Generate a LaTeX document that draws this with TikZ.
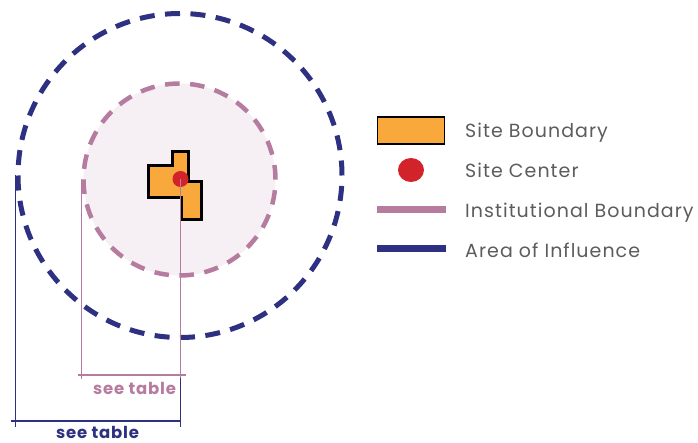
\documentclass[tikz,border=0pt]{standalone}
\usepackage{fontspec}
\setmainfont{Poppins}
\newfontfamily\legendfont{Poppins}[LetterSpace=5.5]
\newfontfamily\dimfont{Poppins}[LetterSpace=5]
\usetikzlibrary{shapes.geometric}
\definecolor{navy}{HTML}{2E3182}
\definecolor{mauve}{HTML}{B67C9F}
\definecolor{mauvefill}{HTML}{F6EFF4}
\definecolor{siteorange}{HTML}{F9A83B}
\definecolor{sitered}{HTML}{D2232A}
\definecolor{legendgray}{HTML}{5C5C5C}
\tikzset{
  aoiring/.style={circle, draw=navy, line width=5pt, inner sep=0pt,
    dash pattern=on 15pt off 10.45pt},
  instring/.style={circle, draw=mauve, fill=mauvefill, line width=4.5pt, inner sep=0pt,
    dash pattern=on 14.5pt off 10.63pt},
  dimnavy/.style={draw=navy, line width=1.2pt},
  dimmauve/.style={draw=mauve, line width=1.2pt},
  dimlabel/.style={font=\dimfont\fontsize{16.5}{18}\selectfont\bfseries, inner sep=0pt,
    anchor=base},
  legendtext/.style={anchor=base west, text=legendgray, inner sep=0pt,
    font=\legendfont\fontsize{19}{21}\selectfont},
  legendbar/.style={line width=7.5pt}
}
\begin{document}
\begin{tikzpicture}[x=1pt,y=-1pt]
\useasboundingbox (0,0) rectangle (698,443);

% influence area and institutional boundary
\node (aoi) [aoiring, minimum size=324pt] at (180,175.5) {};
\node (ib) [instring, minimum size=192pt] at (179.5,179.5) {};

% site boundary parcel
\draw[fill=siteorange, line width=3pt, line join=miter]
  (148,166) -- (172,166) -- (172,152) -- (188,152) -- (188,182) -- (201,182)
  -- (201,220) -- (181,220) -- (181,198) -- (148,198) -- cycle;

% site center
\node (sc) [circle, fill=sitered, inner sep=0pt, minimum size=16pt] at (180.5,179) {};

% dimension lines
\coordinate (mauveL) at (ib.west |- 0,379);
\coordinate (mauveR) at (180.5,378);
\coordinate (navyL) at (aoi.west |- 0,427);
\coordinate (navyR) at (180.5,427);
\coordinate (mh1) at (78,375);
\coordinate (mh2) at (186,375);
\coordinate (nh1) at (11,421);
\coordinate (nh2) at (180.5,421);

\draw[dimmauve] (sc.center) -- (mauveR);
\draw[dimnavy] (mauveR) -- (navyR);
\draw[dimmauve] (ib.west) -- (mauveL);
\draw[dimmauve] (mh1) -- (mh2);
\draw[dimnavy] (aoi.west) -- (navyL);
\draw[dimnavy] (nh1) -- (nh2);

\node (mlabel) [dimlabel, text=mauve] at (134.5,394.5) {see table};
\node (nlabel) [dimlabel, text=navy] at (97.5,438) {see table};

% legend
\node (lgsite) [draw=black, line width=1.5pt, fill=siteorange, minimum width=67pt,
  minimum height=27pt, inner sep=0pt] at (411,130.5) {};
\node (lgcenter) [ellipse, fill=sitered, minimum width=26pt, minimum height=24pt,
  inner sep=0pt] at (411,170) {};
\coordinate (lginstA) at (377,209.5);
\coordinate (lginstB) at (446,209.5);
\coordinate (lgaoiA) at (377,248.5);
\coordinate (lgaoiB) at (446,248.5);
\draw[legendbar, mauve] (lginstA) -- (lginstB);
\draw[legendbar, navy] (lgaoiA) -- (lgaoiB);

\node (tsite) [legendtext] at (465,138) {Site Boundary};
\node (tcenter) [legendtext] at (465,177.5) {Site Center};
\node (tinst) [legendtext] at (465,217.5) {Institutional Boundary};
\node (taoi) [legendtext] at (465,257.5) {Area of Influence};
\end{tikzpicture}
\end{document}
